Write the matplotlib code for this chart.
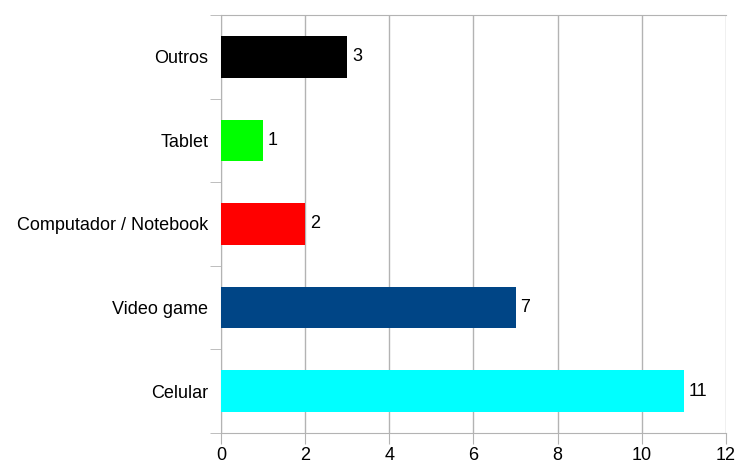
import matplotlib.pyplot as plt
import numpy as np

plt.rcParams['font.family'] = ['Liberation Sans', 'DejaVu Sans']

categories = ["Celular", "Video game", "Computador / Notebook", "Tablet", "Outros"]
values = [11, 7, 2, 1, 3]
colors = ["#00ffff", "#004586", "#ff0000", "#00ff00", "#000000"]

grid_color = "#b3b3b3"

fig = plt.figure(figsize=(7.4, 4.63), dpi=100)
ax = fig.add_axes([0.2986, 0.0648, 0.6824, 0.9028])

y = np.arange(len(categories))
ax.barh(y, values, height=0.5, color=colors, zorder=3)

for yi, v in zip(y, values):
    ax.text(v + 0.12, yi, str(v), va="center", ha="left", fontsize=13, color="#000000")

ax.set_xlim(0, 12)
ax.set_ylim(-0.5, len(categories) - 0.5)
ax.set_xticks(range(0, 13, 2))
ax.tick_params(axis="x", labelsize=13, length=8, color=grid_color, pad=2)

# category labels centered, tick marks at boundaries
ax.set_yticks(y)
ax.set_yticklabels(categories, fontsize=13)
ax.tick_params(axis="y", which="major", length=0, pad=9)
ax.set_yticks(np.arange(-0.5, len(categories)), minor=True)
ax.tick_params(axis="y", which="minor", length=8, color=grid_color)

ax.grid(axis="x", color=grid_color, linewidth=1, zorder=0)
for side in ["left", "bottom", "top"]:
    ax.spines[side].set_color(grid_color)
ax.spines["right"].set_visible(False)

fig.savefig("out.png", dpi=100)
